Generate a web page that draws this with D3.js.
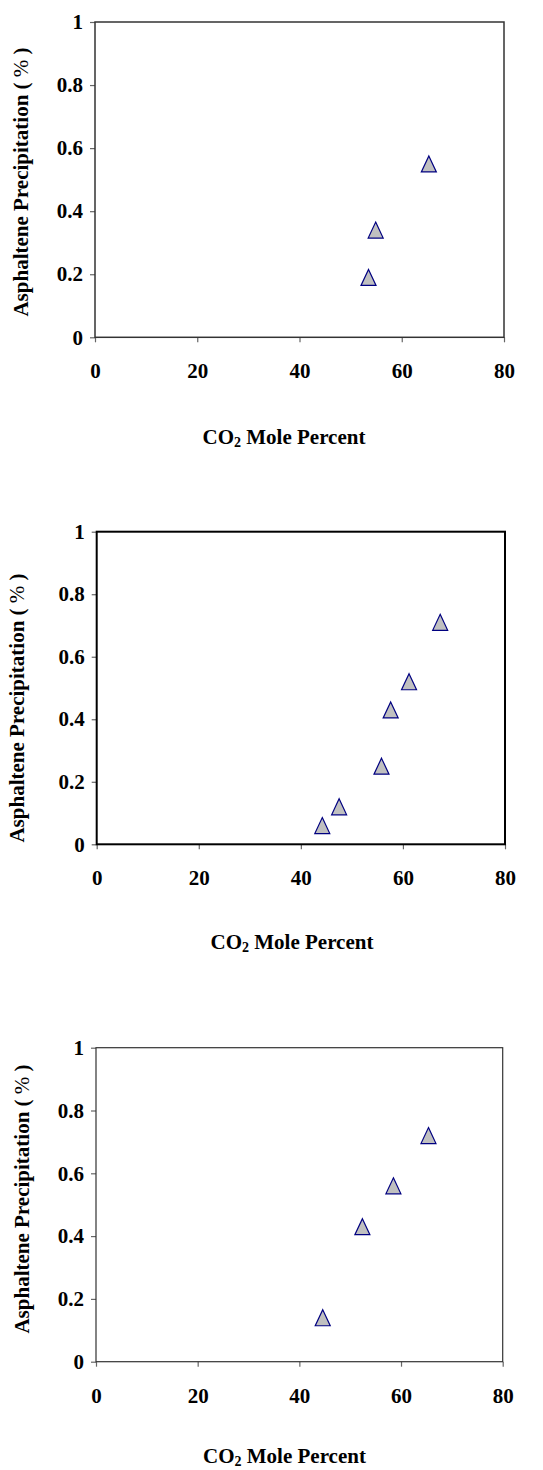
<!DOCTYPE html>
<html>
<head>
<meta charset="utf-8">
<script src="https://cdn.jsdelivr.net/npm/d3@7"></script>
<style>
  html, body { margin: 0; padding: 0; background: #fff; }
  svg { display: block; }
</style>
</head>
<body>
<svg id="chart" width="543" height="1470"></svg>
<script>
// ---- data ----
const xTicks = [0, 20, 40, 60, 80];
const yTicks = [0, 0.2, 0.4, 0.6, 0.8, 1];
const xTitle = "CO";
const xTitleSub = "2";
const xTitleRest = " Mole Percent";
const yTitleMain = "Asphaltene Precipitation ( ";
const yTitlePct = "%";
const yTitleEnd = " )";

const chart1X = [53.5, 54.9, 65.3];
const chart1Y = [0.19, 0.34, 0.55];
const chart2X = [44.2, 47.5, 55.8, 57.6, 61.2, 67.3];
const chart2Y = [0.06, 0.12, 0.25, 0.43, 0.52, 0.71];
const chart3X = [44.6, 52.4, 58.5, 65.4];
const chart3Y = [0.14, 0.43, 0.56, 0.72];

// ---- layout ----
const FONT = "'Liberation Serif', 'Times New Roman', Times, serif";
const panels = [
  { xs: chart1X, ys: chart1Y, left: 95, right: 504, top: 22, bottom: 337.3,
    border: "#333", bw: 1.5, xtX: 284, xtY: 443.5, ytX: 28.3, ytY: 182 },
  { xs: chart2X, ys: chart2Y, left: 96.7, right: 505, top: 531.7, bottom: 844.3,
    border: "#000", bw: 2, xtX: 292, xtY: 948.5, ytX: 24, ytY: 708 },
  { xs: chart3X, ys: chart3Y, left: 96, right: 502.7, top: 1047.7, bottom: 1361.7,
    border: "#333", bw: 1.2, xtX: 284.5, xtY: 1462.5, ytX: 29.3, ytY: 1199 }
];

const svg = d3.select("#chart");
const tri = "M0,-8L7.5,8L-7.5,8Z";

function styleText(sel) {
  return sel.style("font-family", FONT).style("font-weight", "bold")
            .style("font-size", "21px").attr("fill", "#000");
}

panels.forEach(p => {
  const x = d3.scaleLinear().domain([0, 80]).range([p.left, p.right]);
  const y = d3.scaleLinear().domain([0, 1]).range([p.bottom, p.top]);
  const g = svg.append("g");

  // x axis
  const gx = g.append("g")
    .attr("transform", `translate(0,${p.bottom})`)
    .call(d3.axisBottom(x).tickValues(xTicks).tickSize(5).tickPadding(21).tickFormat(d => String(d)));
  gx.attr("font-family", null).attr("font-size", null);
  gx.select(".domain").remove();
  gx.selectAll(".tick line").attr("stroke", "#666").attr("stroke-width", 1.2);
  styleText(gx.selectAll(".tick text"));

  // y axis
  const gy = g.append("g")
    .attr("transform", `translate(${p.left},0)`)
    .call(d3.axisLeft(y).tickValues(yTicks).tickSize(5).tickPadding(7).tickFormat(d => String(d)));
  gy.attr("font-family", null).attr("font-size", null);
  gy.select(".domain").remove();
  gy.selectAll(".tick line").attr("stroke", "#666").attr("stroke-width", 1.2);
  styleText(gy.selectAll(".tick text"));

  // plot border
  g.append("rect")
    .attr("x", p.left).attr("y", p.top)
    .attr("width", p.right - p.left).attr("height", p.bottom - p.top)
    .attr("fill", "none").attr("stroke", p.border).attr("stroke-width", p.bw);

  // markers
  g.append("g").selectAll("path")
    .data(p.xs.map((v, i) => [v, p.ys[i]]))
    .join("path")
    .attr("d", tri)
    .attr("transform", d => `translate(${x(d[0])},${y(d[1])})`)
    .attr("fill", "#C0C0C0")
    .attr("stroke", "#000080")
    .attr("stroke-width", 1.2);

  // x title
  const xt = styleText(g.append("text"))
    .attr("x", p.xtX).attr("y", p.xtY)
    .attr("text-anchor", "middle");
  xt.append("tspan").text(xTitle);
  xt.append("tspan").style("font-size", "14px").attr("dy", 3).text(xTitleSub);
  xt.append("tspan").attr("dy", -3).text(xTitleRest);

  // y title
  const yt = styleText(g.append("text"))
    .attr("transform", `translate(${p.ytX},${p.ytY}) rotate(-90)`)
    .attr("text-anchor", "middle");
  yt.append("tspan").text(yTitleMain);
  yt.append("tspan").style("font-weight", "normal").text(yTitlePct);
  yt.append("tspan").text(yTitleEnd);
});
</script>
</body>
</html>
